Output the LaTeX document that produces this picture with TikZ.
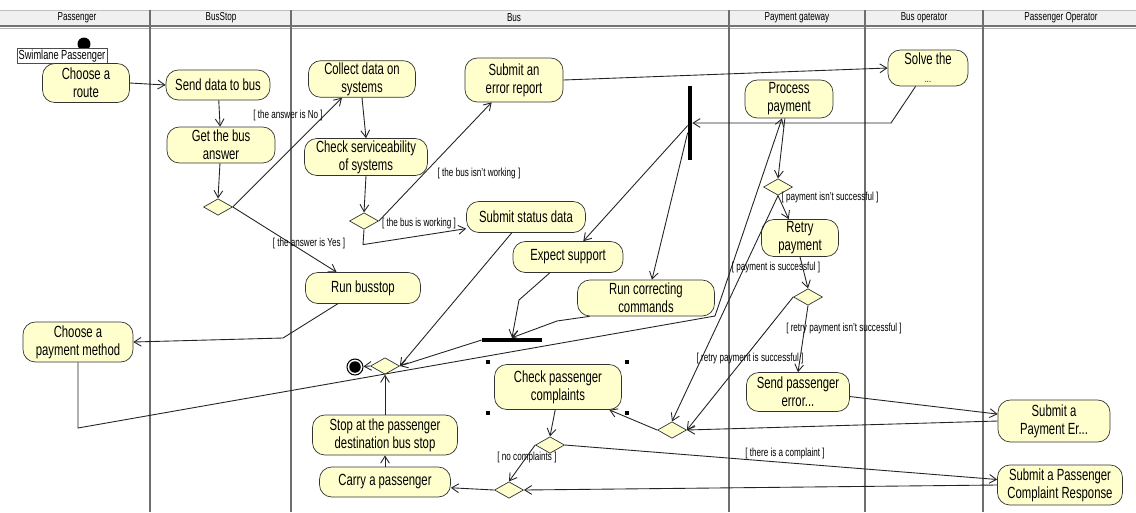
\documentclass[tikz,border=0pt]{standalone}
\usepackage{fontspec}
\setmainfont{Liberation Sans}[FakeStretch=0.70]
\usetikzlibrary{arrows.meta,shapes.geometric}

\definecolor{actfill}{RGB}{255,255,206}
\definecolor{hdrfill}{RGB}{240,240,240}
\definecolor{lanegray}{RGB}{110,110,110}
\definecolor{edgecol}{RGB}{35,35,35}

\begin{document}
\begin{tikzpicture}[x=0.02cm, y=-0.02cm,
    activity/.style={draw=black!80, fill=actfill, rectangle, rounded corners=7pt, align=center,
        inner sep=1pt, font=\fontsize{9.2}{10.3}\selectfont},
    decision/.style={draw=black!80, fill=actfill, diamond, inner sep=0pt,
        minimum width=5.8mm, minimum height=3.3mm},
    bar/.style={fill=black, rectangle, inner sep=0pt},
    flow/.style={draw=edgecol, line width=0.5pt, -{Straight Barb[length=4pt,width=5pt]}},
    guard/.style={font=\fontsize{6.6}{7.5}\selectfont, inner sep=0.5pt},
    lanetitle/.style={font=\fontsize{6.6}{7.5}\selectfont}]

    \fill[white] (0,0) rectangle (1136,512);
    \useasboundingbox (0,0) rectangle (1136,512);

    % swimlane header
    \fill[hdrfill] (0,10) rectangle (1136,26);
    \draw[black!25] (0,10) -- (1136,10);
    \draw[black!55, line width=1pt] (0,26.3) -- (1136,26.3);
    \draw[black!30, line width=0.6pt] (0,28.4) -- (1136,28.4);
    \foreach \lx in {150,291,729,865,983}
        \draw[lanegray, line width=0.6pt] (\lx,10) -- (\lx,512);

    \node[lanetitle] (tPassenger) at (77,17.5) {Passenger};
    \node[lanetitle] (tBusStop) at (221,17.5) {BusStop};
    \node[lanetitle] (tBus) at (514,17.5) {Bus};
    \node[lanetitle] (tGateway) at (797,17.5) {Payment gateway};
    \node[lanetitle] (tBusOp) at (924,17.5) {Bus operator};
    \node[lanetitle] (tPassOp) at (1061,17.5) {Passenger Operator};

    % Passenger
    \node[circle, fill=black, minimum size=2.6mm, inner sep=0pt] (start) at (84,44) {};
    \node[draw=black!70, fill=white, rectangle, minimum width=18mm, minimum height=3mm, inner sep=0.5pt,
        font=\fontsize{7.5}{8.5}\selectfont] (lblLane) at (62,56) {Swimlane Passenger};
    \node[activity, minimum width=17.4mm, minimum height=7.8mm] (route) at (86,83) {Choose a\\route};
    \node[activity, minimum width=22mm, minimum height=8mm] (payMethod) at (78,342) {Choose a\\payment method};

    % BusStop
    \node[activity, minimum width=20.8mm, minimum height=6mm] (send) at (218,85) {Send data to bus};
    \node[activity, minimum width=21.6mm, minimum height=7.2mm] (answer) at (221,145) {Get the bus\\answer};
    \node[decision] (dAnswer) at (218,207) {};

    % Bus
    \node[activity, minimum width=21.4mm, minimum height=7mm] (collect) at (362,79) {Collect data on\\systems};
    \node[activity, minimum width=24.6mm, minimum height=7.4mm] (check) at (366,157) {Check serviceability\\of systems};
    \node[decision] (dBus) at (364,221) {};
    \node[activity, minimum width=19.6mm, minimum height=8.8mm] (errRep) at (514,80) {Submit an\\error report};
    \node[activity, minimum width=23.8mm, minimum height=6.2mm] (status) at (526,217) {Submit status data};
    \node[activity, minimum width=22mm, minimum height=6.2mm] (expect) at (568,257) {Expect support};
    \node[activity, minimum width=23mm, minimum height=6.2mm] (runStop) at (363,288) {Run busstop};
    \node[activity, minimum width=27.4mm, minimum height=7.2mm] (correct) at (646,298) {Run correcting\\commands};
    \node[bar, minimum width=12mm, minimum height=0.8mm] (join) at (512,340) {};
    \node[bar, minimum width=0.8mm, minimum height=14.8mm] (fork) at (690,123) {};
    \node[circle, draw=black, line width=0.6pt, fill=white, minimum size=3.2mm, inner sep=0pt,
        path picture={\fill[black] (path picture bounding box.center) circle (1.15mm);}] (final) at (355,367) {};
    \node[decision] (dFinal) at (385,366) {};
    \node[activity, minimum width=29mm, minimum height=8mm] (stopBus) at (385,435) {Stop at the passenger\\destination bus stop};
    \node[activity, minimum width=26.2mm, minimum height=6mm] (carry) at (385,482) {Carry a passenger};
    \node[activity, minimum width=25.4mm, minimum height=9mm] (complaints) at (558,387) {Check passenger\\complaints};
    \node[decision] (dCompl) at (550,445) {};
    \node[decision] (dMerge) at (509,490) {};
    \node[decision] (dPayMerge) at (672,430) {};
    \foreach \hx/\hy in {488/362,627/362,488/413,627/413}
        \fill (\hx-2,\hy-2) rectangle ++(4,4);

    % Payment gateway
    \node[activity, minimum width=17.6mm, minimum height=7.6mm] (process) at (789,99) {Process\\payment};
    \node[decision] (dPay) at (778,187) {};
    \node[activity, minimum width=15.4mm, minimum height=7.4mm] (retry) at (800,238) {Retry\\payment};
    \node[decision] (dRetry) at (808,297) {};
    \node[activity, minimum width=20.6mm, minimum height=7.8mm] (sendErr) at (798,392) {Send passenger\\error...};

    % Bus operator
    \node[activity, minimum width=16mm, minimum height=7.2mm] (solve) at (928,68) {Solve the\\{\fontsize{6}{7}\selectfont ...}};

    % Passenger Operator
    \node[activity, minimum width=22.4mm, minimum height=8.4mm] (payErr) at (1054,421) {Submit a\\Payment Er...};
    \node[activity, minimum width=25mm, minimum height=8mm] (complResp) at (1060,485) {Submit a Passenger\\Complaint Response};

    % flows
    \draw[flow] (route.east) -- (send.west);
    \draw[flow] (send) -- (answer);
    \draw[flow] (answer) -- (dAnswer.north);
    \draw[flow] (dAnswer.east) -- (collect.223) node[guard] (gNo) at (288,115) {[ the answer is No ]};
    \draw[flow] (dAnswer.east) -- (runStop.149) node[guard] (gYes) at (309,243) {[ the answer is Yes ]};
    \draw[flow] (collect.south) -- (check.north);
    \draw[flow] (check.south) -- (dBus.north);
    \draw[flow] (dBus.east) -- (errRep.225) node[guard] (gBroken) at (479,173) {[ the bus isn't working ]};
    \draw[flow] (dBus.south) -- ++(-1,15) -- (status.191) node[guard] (gWorking) at (419,223) {[ the bus is working ]};
    \draw[flow] (status.228) -- (dFinal.east);
    \draw[flow] (join.west) -- (dFinal.east);
    \draw[flow] (dFinal.west) -- (final);
    \draw[flow] (runStop.212) -- (283,338) -- (payMethod.east);
    \draw[flow] (payMethod.south) -- (78,428) -- (715,316) -- (process.250);
    \draw[flow] (process.258) -- (dPay.north);
    \draw[flow] (dPay.south) -- (retry.121) node[guard] (gPayFail) at (830,197) {[ payment isn't successful ]};
    \draw[flow] (dPay.south) -- (dPayMerge.north) node[guard] (gPayOk) at (776,267) {[ payment is successful ]};
    \draw[flow] (retry.south) -- (dRetry.north);
    \draw[flow] (dRetry.south) -- (sendErr.north) node[guard] (gRetryFail) at (844,328) {[ retry payment isn't successful ]};
    \draw[flow] (dRetry.west) -- (dPayMerge.east) node[guard] (gRetryOk) at (750,358) {[ retry payment is successful ]};
    \draw[flow] (sendErr.355) -- (payErr.173);
    \draw[flow] (payErr.west) -- (dPayMerge.east);
    \draw[flow] (dPayMerge.west) -- (complaints.336);
    \draw[flow] (complaints.263) -- (dCompl.north);
    \draw[flow] (dCompl.west) -- (dMerge.north) node[guard] (gNone) at (527,457) {[ no complaints ]};
    \draw[flow] (dCompl.east) -- (complResp.175) node[guard] (gCompl) at (785,453) {[ there is a complaint ]};
    \draw[flow] (complResp.west) -- (dMerge.east);
    \draw[flow] (dMerge.west) -- (carry.355);
    \draw[flow] (carry.north) -- (stopBus.south);
    \draw[flow] (stopBus.north) -- (dFinal.south);
    \draw[flow] (errRep.east) -- (solve.west);
    \draw[flow] (solve.236) -- (891,123) -- (fork.east);
    \draw[flow] (fork) -- (expect.46);
    \draw[flow] (fork) -- (correct.72);
    \draw[flow] (expect.221) -- (519,300) -- (join.north);
    \draw[flow] (correct.198) -- (557,321) -- (join.north);
\end{tikzpicture}
\end{document}
